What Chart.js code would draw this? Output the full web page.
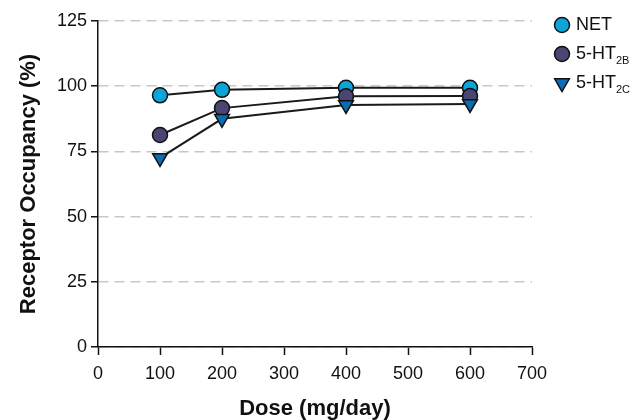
<!DOCTYPE html>
<html>
<head>
<meta charset="utf-8">
<script src="https://cdn.jsdelivr.net/npm/chart.js@4/dist/chart.umd.min.js"></script>
<style>
  html, body { margin: 0; padding: 0; background: #fff; }
  #wrap { width: 643px; height: 420px; }
</style>
</head>
<body>
<div id="wrap"><canvas id="occupancy"></canvas></div>
<script>
"use strict";

// Dose (mg/day) and receptor occupancy (%)
const doses = [100, 200, 400, 600];
const netValues = [96.5, 98.6, 99.4, 99.4];
const ht2bValues = [81.3, 91.6, 96.1, 96.2];
const ht2cValues = [72.5, 87.5, 92.8, 93.2];

const xTicks = [0, 100, 200, 300, 400, 500, 600, 700];
const yTicks = [0, 25, 50, 75, 100, 125];

const legendItems = [
    { main: "NET", sub: "", color: "#0ba5d9", style: "circle" },
    { main: "5-HT", sub: "2B", color: "#4a4673", style: "circle" },
    { main: "5-HT", sub: "2C", color: "#0a6db3", style: "triangle" }
];

const font = "'Liberation Sans', Arial, sans-serif";

function toPoints(values) {
    return doses.map((d, i) => ({ x: d, y: values[i] }));
}

/**
 * Ritar legenden med nedsänkt text (subscript).
 */
const subLegend = {
    id: "subLegend",
    afterDraw(chart) {
        const ctx = chart.ctx;
        const x = 562;
        let y = 25;
        ctx.save();
        legendItems.forEach(item => {
            const tri = item.style === "triangle";
            ctx.fillStyle = item.color;
            ctx.strokeStyle = "#111";
            ctx.lineWidth = 1.5;
            Chart.helpers.drawPoint(ctx, {
                pointStyle: item.style,
                radius: tri ? 8.5 : 7.5,
                rotation: tri ? 180 : 0,
                borderWidth: 1.5
            }, x, y);
            ctx.fillStyle = "#111";
            ctx.textBaseline = "middle";
            ctx.textAlign = "left";
            ctx.font = "18px " + font;
            ctx.fillText(item.main, x + 14, y);
            if (item.sub) {
                const w = ctx.measureText(item.main).width;
                ctx.font = "11px " + font;
                ctx.fillText(item.sub, x + 14 + w, y + 7);
            }
            y += 29;
        });
        ctx.restore();
    }
};

function dataset(label, values, color, style, order) {
    const tri = style === "triangle";
    return {
        label: label,
        data: toPoints(values),
        borderColor: "#1a1a1a",
        borderWidth: 2,
        backgroundColor: color,
        pointBackgroundColor: color,
        pointBorderColor: "#111",
        pointBorderWidth: 1.5,
        pointRadius: tri ? 8.5 : 7.5,
        pointStyle: style,
        pointRotation: tri ? 180 : 0,
        order: order
    };
}

new Chart(document.getElementById("occupancy"), {
    type: "line",
    data: {
        datasets: [
            dataset("NET", netValues, legendItems[0].color, "circle", 3),
            dataset("5-HT2B", ht2bValues, legendItems[1].color, "circle", 2),
            dataset("5-HT2C", ht2cValues, legendItems[2].color, "triangle", 1)
        ]
    },
    options: {
        responsive: true,
        maintainAspectRatio: false,
        animation: false,
        clip: false,
        layout: { padding: { left: 0, right: 111, top: 21, bottom: 0 } },
        plugins: {
            legend: { display: false },
            tooltip: { enabled: false }
        },
        scales: {
            x: {
                type: "linear",
                min: 0,
                max: 700,
                afterBuildTicks: s => { s.ticks = xTicks.map(v => ({ value: v })); },
                afterFit: s => { s.height = 73; },
                ticks: { color: "#111", font: { family: font, size: 18 }, padding: 8, maxRotation: 0 },
                grid: { drawOnChartArea: false, tickLength: 8, tickColor: "#111", tickWidth: 1.5 },
                border: { color: "#111", width: 1.5 },
                title: {
                    display: true,
                    text: "Dose (mg/day)",
                    color: "#111",
                    font: { family: font, size: 22, weight: "bold", lineHeight: 1 },
                    padding: { top: 0, bottom: 0 }
                }
            },
            y: {
                min: 0,
                max: 125,
                afterBuildTicks: s => { s.ticks = yTicks.map(v => ({ value: v })); },
                afterFit: s => { s.width = 98; },
                ticks: { color: "#111", font: { family: font, size: 18 }, padding: 4 },
                grid: {
                    color: "#c8c8c8",
                    lineWidth: 1.5,
                    tickLength: 7,
                    tickColor: "#111",
                    tickWidth: 1.5,
                    tickBorderDash: []
                },
                border: { color: "#111", width: 1.5, dash: [10, 6] },
                title: {
                    display: true,
                    text: "Receptor Occupancy (%)",
                    color: "#111",
                    font: { family: font, size: 22, weight: "bold", lineHeight: 1 },
                    padding: { top: 18, bottom: 0 }
                }
            }
        }
    },
    plugins: [subLegend]
});
</script>
</body>
</html>
